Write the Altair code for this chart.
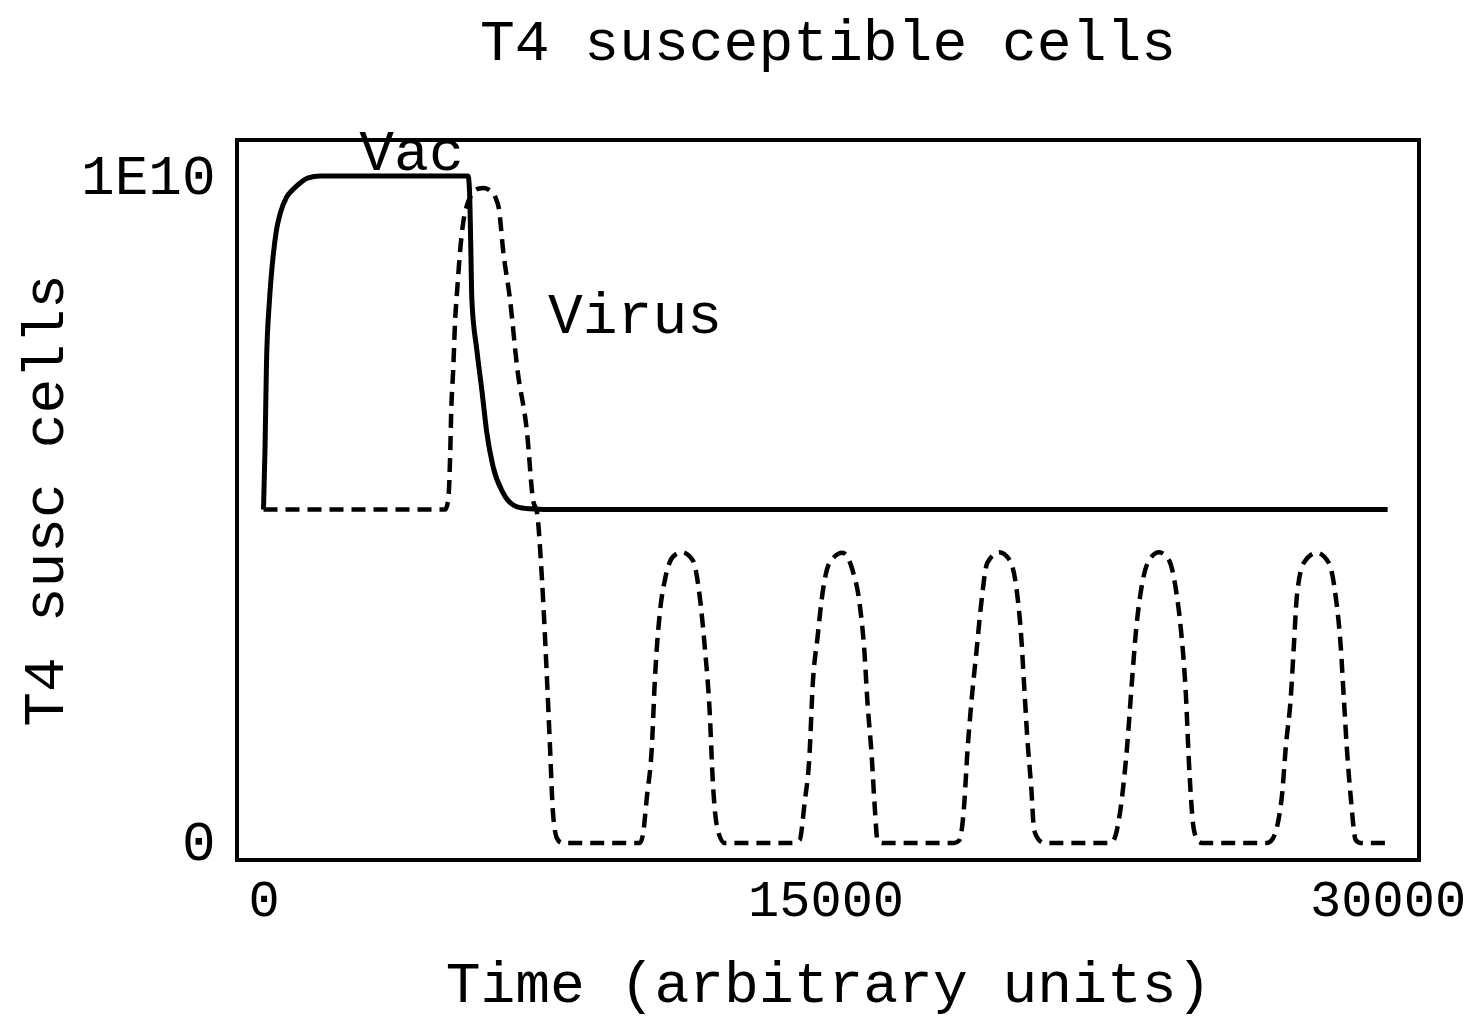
import altair as alt
import pandas as pd

# ---- data (y in cells) ----
vac_t = [0, 40, 80, 160, 240, 346, 453, 613, 773, 986, 1172, 1519, 5462,
         5500, 5530, 5561, 5694, 5827, 5960, 6128, 6394, 6767, 7114, 7513, 30000]
vac_v = [0.5, 0.589, 0.72, 0.814, 0.87, 0.919, 0.945, 0.968, 0.979, 0.99, 0.997, 1.0, 1.0,
         0.975, 0.9, 0.814, 0.739, 0.679, 0.615, 0.564, 0.525, 0.504, 0.501, 0.5, 0.5]

virus_t = [0, 4849, 4929, 4982, 5009, 5062, 5115, 5169, 5249, 5329, 5435, 5568, 5728, 5888,
           6048, 6181, 6288, 6394, 6581, 6767, 7034, 7194, 7300, 7433, 7567, 7646, 7726, 7833,
           7966, 10044,
           10124, 10231, 10364, 10444, 10577, 10711, 10924, 11163, 11456, 11643, 11776, 11909,
           11989, 12123, 12309,
           14174, 14307, 14440, 14574, 14654, 14787, 14920, 15107, 15453, 15720, 15906, 16039,
           16119, 16226, 16306, 16386, 16519,
           18437, 18570, 18703, 18783, 18890, 19023, 19156, 19316, 19636, 19902, 20089, 20222,
           20302, 20382, 20488, 20568, 20755, 20835,
           22513, 22647, 22913, 23046, 23179, 23286, 23419, 23632, 23899, 24165, 24352, 24485,
           24619, 24698, 24832, 24965, 25060,
           26776, 26909, 27176, 27282, 27416, 27496, 27576, 27762, 28109, 28429, 28615, 28749,
           28829, 28909, 29015, 29149, 29282, 30000]
virus_v = [0.5, 0.5, 0.514, 0.582, 0.645, 0.709, 0.784, 0.829, 0.889, 0.93, 0.957, 0.973, 0.981,
           0.982, 0.978, 0.969, 0.949, 0.889, 0.814, 0.714, 0.615, 0.514, 0.495, 0.394, 0.244,
           0.144, 0.045, 0.007, 0.0, 0.0,
           0.012, 0.069, 0.144, 0.244, 0.345, 0.394, 0.429, 0.436, 0.424, 0.369, 0.294, 0.195,
           0.094, 0.019, 0.0,
           0.0, 0.004, 0.06, 0.135, 0.234, 0.309, 0.375, 0.42, 0.435, 0.409, 0.36, 0.285,
           0.21, 0.135, 0.06, 0.004, 0.0,
           0.0, 0.004, 0.06, 0.135, 0.21, 0.285, 0.36, 0.42, 0.436, 0.425, 0.384, 0.309,
           0.234, 0.159, 0.084, 0.019, 0.0015, 0.0,
           0.0, 0.0015, 0.069, 0.144, 0.244, 0.319, 0.379, 0.424, 0.436, 0.424, 0.379, 0.319,
           0.219, 0.12, 0.019, 0.0015, 0.0,
           0.0, 0.0045, 0.069, 0.144, 0.219, 0.294, 0.369, 0.42, 0.435, 0.42, 0.369, 0.294,
           0.219, 0.144, 0.069, 0.0045, 0.0, 0.0]

label_text = ["Vac", "Virus"]
label_t = [3950, 9915]
label_v = [1.009, 0.765]

x_ticks = [0, 15000, 30000]
y_ticks = [0, 1e10]

SCALE = 1e10
vac = pd.DataFrame({"t": vac_t, "v": [v * SCALE for v in vac_v]})
virus = pd.DataFrame({"t": virus_t, "v": [v * SCALE for v in virus_v]})
labels = pd.DataFrame({"t": label_t, "v": [v * SCALE for v in label_v], "label": label_text})

FONT = "Liberation Mono"

x_enc = alt.X("t:Q", scale=alt.Scale(domain=[-707, 30837], nice=False, zero=False),
              axis=alt.Axis(values=x_ticks, format="d", title="Time (arbitrary units)",
                            ticks=False, domain=False, grid=False, labelPadding=14,
                            labelFontSize=52, titlePadding=30))
y_enc = alt.Y("v:Q", scale=alt.Scale(domain=[-0.0255e10, 1.054e10], nice=False, zero=False),
              axis=alt.Axis(values=y_ticks,
                            labelExpr="datum.value == 0 ? '0' : '1E10'",
                            title="T4 susc cells", ticks=False, domain=False, grid=False,
                            labelPadding=22, titlePadding=6))

vac_line = alt.Chart(vac).mark_line(color="black", strokeWidth=5, interpolate="monotone").encode(
    x=x_enc, y=y_enc)
virus_line = alt.Chart(virus).mark_line(color="black", strokeWidth=4.5, strokeDash=[14, 8],
                                        interpolate="monotone").encode(x="t:Q", y="v:Q")
text = alt.Chart(labels).mark_text(font=FONT, fontSize=58, color="black", align="center",
                                   baseline="alphabetic").encode(x="t:Q", y="v:Q", text="label:N")

chart = alt.layer(vac_line, virus_line, text).properties(
    width=1182, height=720,
    title=alt.TitleParams("T4 susceptible cells", font=FONT, fontSize=58, fontWeight="normal",
                          color="black", anchor="middle", offset=52),
    autosize=alt.AutoSizeParams(type="none"),
    padding={"left": 229, "top": 132, "right": 48, "bottom": 160},
    background="white",
).configure_view(stroke="black", strokeWidth=4).configure_axis(
    labelFont=FONT, labelFontSize=56, labelColor="black",
    titleFont=FONT, titleFontSize=58, titleFontWeight="normal", titleColor="black",
)

chart.save("out.html", embed_options={"renderer": "svg", "actions": False})
